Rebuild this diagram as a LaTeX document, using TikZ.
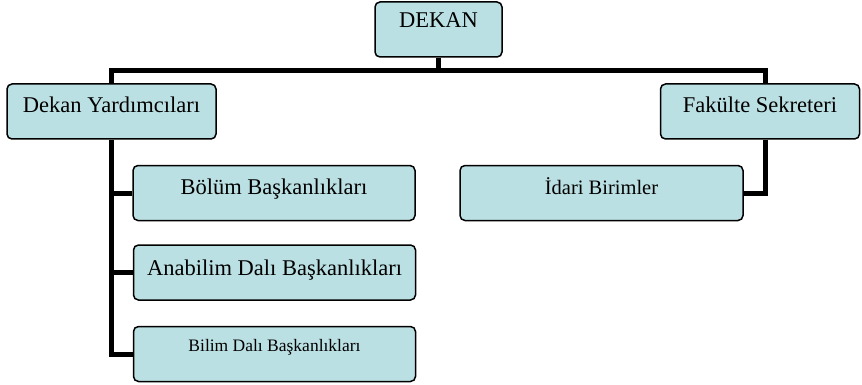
\documentclass[tikz,border=0pt]{standalone}
\usepackage{fontspec}
\setmainfont{Liberation Serif}
\usetikzlibrary{positioning}
\definecolor{boxfill}{RGB}{187,224,227}
\tikzset{unit/.style={rounded corners=5pt,draw,line width=1.5pt,fill=boxfill,inner xsep=0pt,inner ysep=0pt,text height=29pt,text depth=26pt,font=\fontsize{22.5}{27}\selectfont},link/.style={line width=5pt}}

\begin{document}
\begin{tikzpicture}[x=1pt,y=-1pt]
\useasboundingbox (0,0) rectangle (862,385);
\node (dekan) at (438.5,29.5) [unit,minimum width=127pt,text height=26pt,text depth=29pt] {DEKAN};
\node (dy) at (111.5,111.5) [unit,minimum width=209pt] {Dekan Yardımcıları};
\node (fs) at (760,111.5) [unit,minimum width=199pt] {Fakülte Sekreteri};
\node (bol) at (274,193) [unit,minimum width=282pt] {Bölüm Başkanlıkları};
\node (ana) at (274.5,272.5) [unit,minimum width=282pt,text height=30pt,text depth=25pt] {Anabilim Dalı Başkanlıkları};
\node (bil) at (274.5,354) [unit,minimum width=282pt,text height=25pt,text depth=30pt,font=\fontsize{17.5}{21}\selectfont] {Bilim Dalı Başkanlıkları};
\node (idari) at (601.5,193) [unit,minimum width=283pt,font=\fontsize{20.5}{24}\selectfont] {İdari Birimler};
\coordinate (bar) at (0,71);
\coordinate (fsdrop) at ([xshift=5pt]fs.south);
\draw[link] (dekan.south) -- (dekan.south |- bar);
\draw[link] (dy.north) |- (bar -| fsdrop) -- (fsdrop |- fs.north);
\foreach \n in {bol,ana,bil} {
\draw[link] (dy.south) |- (\n.west);
}
\draw[link] (fsdrop) |- (idari.east);
\end{tikzpicture}
\end{document}
